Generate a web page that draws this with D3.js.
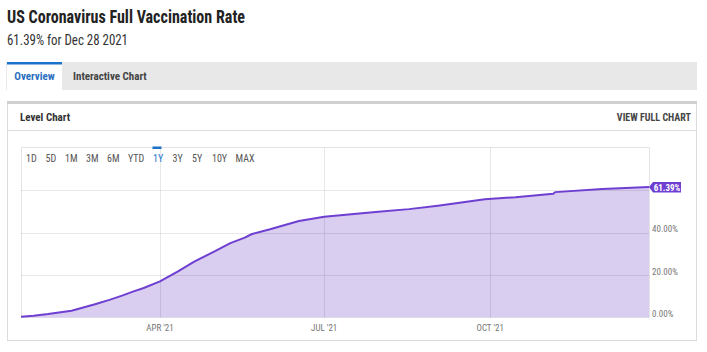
<!DOCTYPE html>
<html>
<head>
<meta charset="utf-8">
<script src="https://cdn.jsdelivr.net/npm/d3@7"></script>
<style>
  body { margin: 0; background: #fff; }
  text { font-family: "Roboto Condensed", "Liberation Sans Narrow", "DejaVu Sans Condensed", sans-serif; }
</style>
</head>
<body>
<div id="chart"></div>
<script>
// full vaccination rate (%)
const dates = ['2021-01-14','2021-01-21','2021-01-29','2021-02-04','2021-02-11','2021-02-18',
  '2021-02-24','2021-03-04','2021-03-11','2021-03-17','2021-03-23',
  '2021-04-01','2021-04-11','2021-04-20','2021-05-01','2021-05-10','2021-05-18','2021-05-22',
  '2021-06-01','2021-06-17','2021-07-01','2021-07-13','2021-07-31','2021-08-17','2021-09-02',
  '2021-09-14','2021-09-28','2021-10-15','2021-11-05','2021-11-06','2021-12-02','2021-12-28'];
const values = [0.3, 0.8, 1.6, 2.4, 3.2, 4.8, 6.2, 8.3, 10.3, 12.2, 13.9,
  17.0, 21.7, 26.3, 31.0, 35.0, 37.6, 39.3,
  41.5, 45.4, 47.4, 48.4, 49.8, 51.0, 52.6, 54.0, 55.7, 56.6, 58.2, 59.0, 60.5, 61.39];
const yTicks = [0, 20, 40, 60];
const yLabels = ['0.00%', '20.00%', '40.00%'];
const xTicks = ['2021-04-01', '2021-07-01', '2021-10-01'];
const xLabels = ["APR '21", "JUL '21", "OCT '21"];
const ranges = ['1D', '5D', '1M', '3M', '6M', 'YTD', '1Y', '3Y', '5Y', '10Y', 'MAX'];
const activeRange = '1Y';

const W = 707, H = 352;
const parse = d3.timeParse('%Y-%m-%d');
const data = dates.map((d, i) => ({date: parse(d), value: values[i]}));

const plot = {left: 21, right: 649, top: 147.5, bottom: 317.5};

const svg = d3.select('#chart').append('svg')
    .attr('width', W)
    .attr('height', H);

// header
svg.append('text')
    .attr('x', 7).attr('y', 23)
    .attr('font-size', 17.5).attr('font-weight', 700)
    .attr('fill', '#222')
    .attr('textLength', 238).attr('lengthAdjust', 'spacingAndGlyphs')
    .text('US Coronavirus Full Vaccination Rate');
svg.append('text')
    .attr('x', 7).attr('y', 45)
    .attr('font-size', 14.5)
    .attr('fill', '#333')
    .attr('textLength', 121).attr('lengthAdjust', 'spacingAndGlyphs')
    .text('61.39% for Dec 28 2021');

// tabs
svg.append('rect')
    .attr('x', 6).attr('y', 62).attr('width', 691).attr('height', 28)
    .attr('fill', '#e8e8e8');
svg.append('rect')
    .attr('x', 7).attr('y', 62).attr('width', 55).attr('height', 28)
    .attr('fill', '#fff');
svg.append('rect')
    .attr('x', 7).attr('y', 62).attr('width', 55).attr('height', 2.5)
    .attr('fill', '#1a73c8');
svg.append('text')
    .attr('x', 34.5).attr('y', 80)
    .attr('text-anchor', 'middle')
    .attr('font-size', 11).attr('font-weight', 700)
    .attr('fill', '#2a6fbe')
    .text('Overview');
svg.append('text')
    .attr('x', 73).attr('y', 80)
    .attr('font-size', 11).attr('font-weight', 700)
    .attr('fill', '#444')
    .text('Interactive Chart');

// card
svg.append('rect')
    .attr('x', 7.5).attr('y', 102.5).attr('width', 689).attr('height', 238)
    .attr('fill', '#fff')
    .attr('stroke', '#dcdcdc');
svg.append('rect')
    .attr('x', 7).attr('y', 101).attr('width', 690).attr('height', 3)
    .attr('fill', '#cfcfcf');
svg.append('line')
    .attr('x1', 8).attr('x2', 696)
    .attr('y1', 130.5).attr('y2', 130.5)
    .attr('stroke', '#dcdcdc');
svg.append('text')
    .attr('x', 20).attr('y', 121)
    .attr('font-size', 11).attr('font-weight', 700)
    .attr('fill', '#333')
    .text('Level Chart');
svg.append('text')
    .attr('x', 691).attr('y', 121)
    .attr('text-anchor', 'end')
    .attr('font-size', 10).attr('font-weight', 700)
    .attr('fill', '#444')
    .text('VIEW FULL CHART');

// scales
const x = d3.scaleTime()
    .domain([data[0].date, data[data.length - 1].date])
    .range([plot.left, plot.right]);
const y = d3.scaleLinear()
    .domain([0, 80])
    .range([plot.bottom, plot.top]);

// plot frame
svg.append('rect')
    .attr('x', plot.left + 0.5).attr('y', plot.top)
    .attr('width', plot.right - plot.left).attr('height', plot.bottom - plot.top)
    .attr('fill', 'none')
    .attr('stroke', '#e4e4e4');

// area + line
const area = d3.area()
    .x(d => x(d.date))
    .y0(y(0))
    .y1(d => y(d.value));
const line = d3.line()
    .x(d => x(d.date))
    .y(d => y(d.value));
svg.append('path')
    .datum(data)
    .attr('d', area)
    .attr('fill', '#d9cdf0');

// grid on top of the area
svg.append('g')
    .selectAll('line')
    .data(yTicks.filter(d => d > 0))
    .join('line')
    .attr('x1', plot.left).attr('x2', plot.right)
    .attr('y1', d => Math.round(y(d)) + 0.5).attr('y2', d => Math.round(y(d)) + 0.5)
    .attr('stroke', '#000').attr('stroke-opacity', 0.09);
svg.append('g')
    .selectAll('line')
    .data(xTicks.map(parse))
    .join('line')
    .attr('x1', d => Math.round(x(d)) + 0.5).attr('x2', d => Math.round(x(d)) + 0.5)
    .attr('y1', plot.top).attr('y2', plot.bottom)
    .attr('stroke', '#000').attr('stroke-opacity', 0.09);

svg.append('path')
    .datum(data)
    .attr('d', line)
    .attr('fill', 'none')
    .attr('stroke', '#6e3fd1')
    .attr('stroke-width', 2)
    .attr('stroke-linejoin', 'round');

// range buttons
const btnPos = {'1D': 26, '5D': 45.5, '1M': 65, '3M': 86, '6M': 107, 'YTD': 128, '1Y': 153, '3Y': 172.5, '5Y': 192, '10Y': 212, 'MAX': 235.5};
svg.append('g')
    .selectAll('text')
    .data(ranges)
    .join('text')
    .attr('x', d => btnPos[d])
    .attr('y', 162)
    .attr('font-size', 10)
    .attr('fill', d => d === activeRange ? '#1a73c8' : '#555')
    .text(d => d);
svg.append('rect')
    .attr('x', btnPos[activeRange] - 0.5).attr('y', 146.5)
    .attr('width', 9).attr('height', 2.5)
    .attr('fill', '#1a73c8');

// y labels
svg.append('g')
    .selectAll('text')
    .data(yLabels)
    .join('text')
    .attr('x', 652)
    .attr('y', (d, i) => y(yTicks[i]) - 0.5)
    .attr('font-size', 9)
    .attr('fill', '#777')
    .text(d => d);

// x labels
svg.append('g')
    .selectAll('text')
    .data(xLabels)
    .join('text')
    .attr('x', (d, i) => x(parse(xTicks[i])))
    .attr('y', 331)
    .attr('text-anchor', 'middle')
    .attr('font-size', 9)
    .attr('fill', '#777')
    .text(d => d);

// last value flag
const last = data[data.length - 1];
const ly = y(last.value);
const lx = x(last.date);
svg.append('path')
    .attr('d', `M${lx},${ly} L${lx + 4},${ly - 5} L${lx + 32},${ly - 5} L${lx + 32},${ly + 5.5} L${lx + 4},${ly + 5.5} Z`)
    .attr('fill', '#6e3fd1');
svg.append('text')
    .attr('x', lx + 18).attr('y', ly + 3.5)
    .attr('text-anchor', 'middle')
    .attr('font-size', 9).attr('font-weight', 700)
    .attr('fill', '#fff')
    .text('61.39%');
</script>
</body>
</html>
